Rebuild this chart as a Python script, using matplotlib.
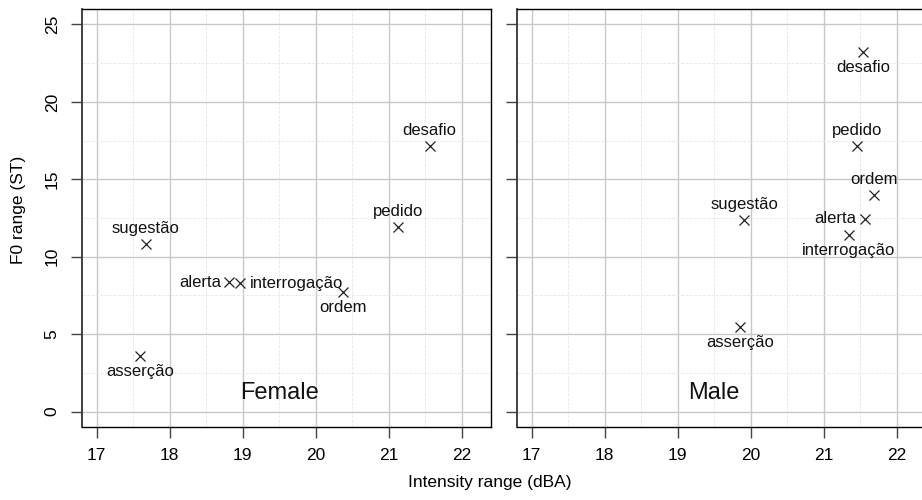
import numpy as np
import matplotlib.pyplot as plt
from matplotlib.ticker import MultipleLocator

plt.rcParams['font.family'] = ['Liberation Sans', 'DejaVu Sans']

# intensity range (dBA) and F0 range (ST) per speech act
acts = ['desafio', 'pedido', 'sugestão', 'alerta', 'interrogação', 'ordem', 'asserção']

female_int = [21.56, 21.13, 17.67, 18.81, 18.97, 20.37, 17.59]
female_f0 = [17.13, 11.92, 10.84, 8.36, 8.30, 7.69, 3.60]

male_int = [21.54, 21.45, 19.91, 21.56, 21.34, 21.69, 19.86]
male_f0 = [23.23, 17.13, 12.35, 12.45, 11.42, 13.96, 5.45]

# where each label sits relative to its point
female_pos = ['top', 'top', 'top', 'left', 'right', 'bottom', 'bottom']
male_pos = ['bottom', 'top', 'top', 'left', 'bottom', 'top', 'bottom']

W, H = 922, 500
fig = plt.figure(figsize=(W / 100, H / 100), dpi=100)

panel_w = 409
ax1 = fig.add_axes([82 / W, 1 - 427 / H, panel_w / W, 418 / H])
ax2 = fig.add_axes([517 / W, 1 - 427 / H, panel_w / W, 418 / H])

offsets = {
    'top': ((0, 15.5), 'center', 'center'),
    'bottom': ((0, -15.5), 'center', 'center'),
    'left': ((-8, 0), 'right', 'center'),
    'right': ((9, 0), 'left', 'center'),
}


def draw_panel(ax, xs, ys, pos, title, show_ylabels):
    ax.set_xlim(16.8, 22.4)
    ax.set_ylim(-1, 26)
    ax.xaxis.set_major_locator(MultipleLocator(1))
    ax.xaxis.set_minor_locator(MultipleLocator(0.5))
    ax.yaxis.set_major_locator(MultipleLocator(5))
    ax.yaxis.set_minor_locator(MultipleLocator(2.5))
    ax.grid(which='major', color='#c8c8c8', lw=1.0, ls='-')
    ax.grid(which='minor', color='#e6e6e6', lw=0.6, ls='--')
    ax.set_axisbelow(True)

    ax.tick_params(axis='both', which='major', direction='out', length=8,
                   width=1, color='#444444', labelsize=12.5, pad=7)
    ax.tick_params(axis='both', which='minor', length=0)
    ax.tick_params(axis='y', labelrotation=90, pad=8)
    for t in ax.get_yticklabels():
        t.set_va('center')
    if not show_ylabels:
        ax.tick_params(axis='y', labelleft=False)

    for side in ['top', 'right', 'bottom']:
        ax.spines[side].set_color('black')
        ax.spines[side].set_linewidth(1)
    ax.spines['left'].set_color('#333333')
    ax.spines['left'].set_linewidth(1.3)

    ax.plot(xs, ys, ls='none', marker='x', ms=7, mew=0.9, color='#222222')
    for x, y, name, p in zip(xs, ys, acts, pos):
        off, ha, va = offsets[p]
        ax.annotate(name, (x, y), xytext=off, textcoords='offset pixels',
                    ha=ha, va=va, fontsize=12, color='#111111')

    ax.text(19.5, 1.2, title, ha='center', va='center', fontsize=17,
            color='#111111')


draw_panel(ax1, female_int, female_f0, female_pos, 'Female', True)
draw_panel(ax2, male_int, male_f0, male_pos, 'Male', False)

fig.text(18 / W, 1 - 210 / H, 'F0 range (ST)', rotation=90, ha='center',
         va='center', fontsize=12.5)
fig.text(490 / W, 1 - 483 / H, 'Intensity range (dBA)', ha='center',
         va='center', fontsize=12.5)

fig.savefig('out.png', dpi=100)
